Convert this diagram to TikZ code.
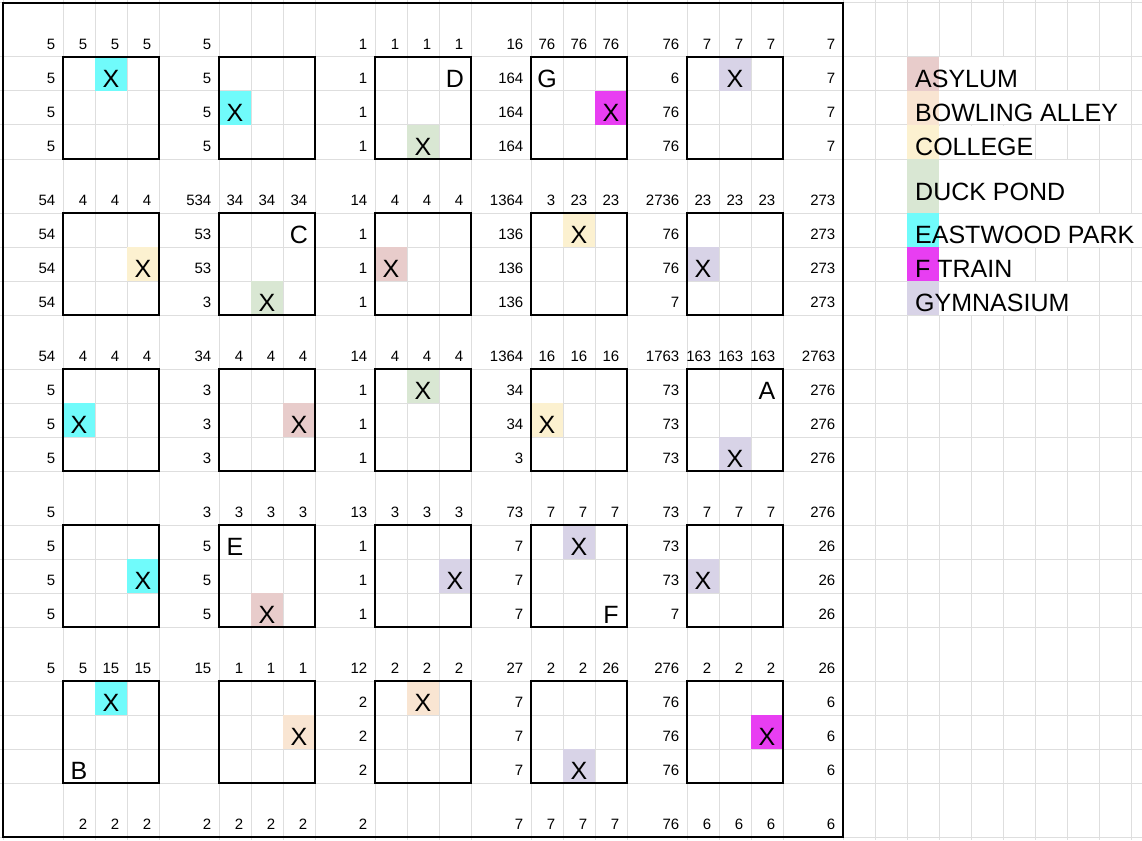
\documentclass[tikz,border=0pt]{standalone}
\usepackage{fontspec}
\setmainfont{Liberation Sans}
\usetikzlibrary{positioning}

\definecolor{gridgray}{RGB}{222,222,222}
\definecolor{asylum}{RGB}{232,204,203}
\definecolor{bowling}{RGB}{249,229,210}
\definecolor{college}{RGB}{252,241,208}
\definecolor{pond}{RGB}{217,231,211}
\definecolor{park}{RGB}{112,251,251}
\definecolor{train}{RGB}{232,62,242}
\definecolor{gym}{RGB}{216,211,231}

\begin{document}
\begin{tikzpicture}[x=1pt, y=-1pt,
  grid/.style={draw=gridgray, line width=1pt},
  box/.style={draw=black, line width=2pt},
  num/.style={anchor=base east, inner sep=0pt, font=\fontsize{15}{18}\selectfont},
  big/.style={anchor=base, inner sep=0pt, font=\fontsize{25}{30}\selectfont},
  key/.style={anchor=base west, inner sep=0pt, font=\fontsize{25}{30}\selectfont}]
  \useasboundingbox (0,0) rectangle (1142,840);
  \fill[white] (0,0) rectangle (1142,840);

  \foreach \b in {0,...,4}
    \foreach \x in {3,63,95,127}
      \draw[grid] (\x+156*\b,0) -- (\x+156*\b,840);
  \draw[grid] (783,0) -- (783,840);
  \foreach \x in {843,875,...,1131}
    \draw[grid] (\x,0) -- (\x,840);
  \foreach \a in {0,...,4}
    \foreach \y in {3,57,91,125}
      \draw[grid] (0,\y+156*\a) -- (1142,\y+156*\a);
  \foreach \y in {783,837}
    \draw[grid] (0,\y) -- (1142,\y);

  \foreach \c/\r/\col in {2/1/park, 5/2/park, 10/3/pond, 15/2/train, 18/1/gym,
      3/6/college, 6/7/pond, 9/6/asylum, 14/5/college, 17/6/gym,
      1/10/park, 7/10/asylum, 10/9/pond, 13/10/college, 18/11/gym,
      3/14/park, 6/15/asylum, 11/14/gym, 14/13/gym, 17/14/gym,
      2/17/park, 7/18/bowling, 10/17/bowling, 14/19/gym, 19/18/train} {
    \pgfmathsetmacro\xr{63+156*int(\c/4)+32*mod(\c,4)}
    \pgfmathsetmacro\yb{57+156*int(\r/4)+34*mod(\r,4)}
    \fill[\col] (\xr-32,\yb-34) rectangle (\xr,\yb);
    \node[big] (x-\r-\c) at (\xr-16,\yb-3.7) {X};
  }
  \foreach \c/\r/\t in {11/1/D, 13/1/G, 7/5/C, 19/9/A, 5/13/E, 15/15/F, 1/19/B} {
    \pgfmathsetmacro\xr{63+156*int(\c/4)+32*mod(\c,4)}
    \pgfmathsetmacro\yb{57+156*int(\r/4)+34*mod(\r,4)}
    \node[big] (l-\t) at (\xr-16,\yb-3.7) {\t};
  }

  \foreach \row [count=\r from 0] in {
      {5,5,5,5,5,,,,1,1,1,1,16,76,76,76,76,7,7,7,7},
      {5,,,,5,,,,1,,,,164,,,,6,,,,7},
      {5,,,,5,,,,1,,,,164,,,,76,,,,7},
      {5,,,,5,,,,1,,,,164,,,,76,,,,7},
      {54,4,4,4,534,34,34,34,14,4,4,4,1364,3,23,23,2736,23,23,23,273},
      {54,,,,53,,,,1,,,,136,,,,76,,,,273},
      {54,,,,53,,,,1,,,,136,,,,76,,,,273},
      {54,,,,3,,,,1,,,,136,,,,7,,,,273},
      {54,4,4,4,34,4,4,4,14,4,4,4,1364,16,16,16,1763,163,163,163,2763},
      {5,,,,3,,,,1,,,,34,,,,73,,,,276},
      {5,,,,3,,,,1,,,,34,,,,73,,,,276},
      {5,,,,3,,,,1,,,,3,,,,73,,,,276},
      {5,,,,3,3,3,3,13,3,3,3,73,7,7,7,73,7,7,7,276},
      {5,,,,5,,,,1,,,,7,,,,73,,,,26},
      {5,,,,5,,,,1,,,,7,,,,73,,,,26},
      {5,,,,5,,,,1,,,,7,,,,7,,,,26},
      {5,5,15,15,15,1,1,1,12,2,2,2,27,2,2,26,276,2,2,2,26},
      {,,,,,,,,2,,,,7,,,,76,,,,6},
      {,,,,,,,,2,,,,7,,,,76,,,,6},
      {,,,,,,,,2,,,,7,,,,76,,,,6},
      {,2,2,2,2,2,2,2,2,,,,7,7,7,7,76,6,6,6,6}}
    \foreach \t [count=\c from 0] in \row {
      \pgfmathsetmacro\xr{63+156*int(\c/4)+32*mod(\c,4)}
      \pgfmathsetmacro\yb{57+156*int(\r/4)+34*mod(\r,4)}
      \node[num] (n-\r-\c) at (\xr-7.5,\yb-7.7) {\t};
    }

  \foreach \a in {0,...,4}
    \foreach \b in {0,...,4}
      \draw[box] (63+156*\b,57+156*\a) rectangle ++(96,102);
  \draw[box] (3,3) rectangle (843,837);

  \foreach \col/\yt/\yb/\xe/\yl/\txt in {asylum/57/91/1035/87.3/ASYLUM,
      bowling/91/125/1131/121.3/BOWLING ALLEY, college/125/159/1035/155.3/COLLEGE,
      pond/159/213/1099/200/DUCK POND, park/213/247/1142/243.3/EASTWOOD PARK,
      train/247/281/1035/277.3/F TRAIN, gym/281/315/1099/311.3/GYMNASIUM} {
    \fill[white] (939,\yt+0.5) rectangle (\xe-0.5,\yb-0.5);
    \fill[\col] (907,\yt) rectangle (939,\yb);
    \node[key] (key-\col) at (915,\yl) {\txt};
  }
\end{tikzpicture}
\end{document}
